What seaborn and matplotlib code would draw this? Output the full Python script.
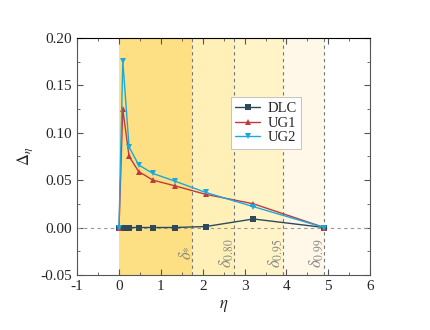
import numpy as np
import pandas as pd
import matplotlib
matplotlib.use('Agg')
import matplotlib.pyplot as plt
import seaborn as sns
from matplotlib.ticker import MultipleLocator

# data
eta = [0, 0.09, 0.24, 0.47, 0.81, 1.33, 2.07, 3.21, 4.9]
dlc = [0, 0, 0, 0, 0, 0, 0.001, 0.009, 0]
ug1 = [0, 0.125, 0.075, 0.059, 0.050, 0.044, 0.035, 0.025, 0]
ug2 = [0, 0.176, 0.085, 0.066, 0.057, 0.049, 0.037, 0.022, 0]

# boundary layer thickness markers
bounds = [0, 1.74, 2.75, 3.91, 4.9]
bound_labels = [r'$\delta_{*}$', r'$\delta_{0.80}$', r'$\delta_{0.95}$', r'$\delta_{0.99}$']
fills = ['#fde083', '#fef0b6', '#fff4c8', '#fff7e8']

df = pd.DataFrame({'eta': eta * 3,
                   'val': dlc + ug1 + ug2,
                   'case': ['DLC'] * len(eta) + ['UG1'] * len(eta) + ['UG2'] * len(eta)})

sns.set_style('ticks')
plt.rcParams['font.family'] = ['Liberation Serif', 'DejaVu Serif']
plt.rcParams['mathtext.fontset'] = 'stix'
plt.rcParams['axes.unicode_minus'] = False

fig = plt.figure(figsize=(4.31, 3.3), dpi=100)
ax = fig.add_axes([0.179, 0.167, 0.680, 0.718])

for i in range(4):
    ax.axvspan(bounds[i], bounds[i + 1], color=fills[i], lw=0, zorder=0)
    ax.axvline(bounds[i + 1], color='#777777', ls=(0, (3, 3)), lw=0.8, zorder=1)
    ax.text(bounds[i + 1] - 0.17, -0.027, bound_labels[i], rotation=90,
            ha='center', va='center', color='#888888', fontsize=12)
ax.axhline(0, color='#999999', ls=(0, (3, 3)), lw=0.8, zorder=1)

sns.lineplot(data=df, x='eta', y='val', hue='case', style='case',
             palette={'DLC': '#2e4a5a', 'UG1': '#c1393c', 'UG2': '#1aa9dc'},
             markers={'DLC': 's', 'UG1': '^', 'UG2': 'v'}, dashes=False,
             markersize=4.5, lw=1.0, markeredgewidth=0, ax=ax, zorder=3)

ax.set_xlim(-1, 6)
ax.set_ylim(-0.05, 0.20)
ax.xaxis.set_major_locator(MultipleLocator(1))
ax.xaxis.set_minor_locator(MultipleLocator(0.5))
ax.yaxis.set_major_locator(MultipleLocator(0.05))
ax.yaxis.set_minor_locator(MultipleLocator(0.025))
ax.yaxis.set_major_formatter(matplotlib.ticker.FormatStrFormatter('%.2f'))
ax.tick_params(which='both', direction='in', top=True, right=True, labelsize=11, color='#555555')
ax.tick_params(which='major', length=4)
ax.tick_params(which='minor', length=2)
for s in ax.spines.values():
    s.set_color('#555555')
ax.spines['top'].set_color('black')
ax.set_xlabel(r'$\eta$', fontsize=12)
ax.set_ylabel(r'$\Delta_{\eta}$', fontsize=12)

leg = ax.legend(loc='upper left', bbox_to_anchor=(0.5, 0.78), frameon=True,
                fontsize=10.5, handlelength=1.7, handletextpad=0.5, borderpad=0.3,
                labelspacing=0.1, fancybox=False, edgecolor='#bbbbbb', framealpha=1)
leg.get_frame().set_linewidth(0.6)

plt.savefig('out.png', dpi=100)
